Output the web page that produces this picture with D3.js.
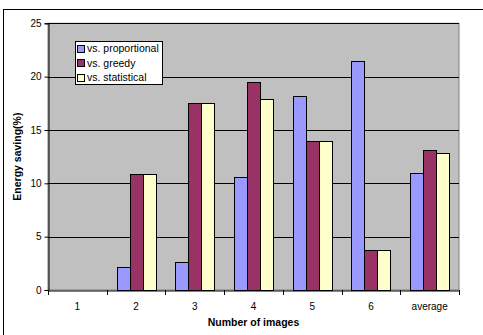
<!DOCTYPE html>
<html><head><meta charset="utf-8">
<script src="https://cdn.jsdelivr.net/npm/d3@7"></script>
<style>body{margin:0;background:#fff}svg{display:block;font-family:"Liberation Sans",Arial,sans-serif}</style>
</head><body>
<svg id="c" width="483" height="335"></svg>
<script>
const categories = ["1","2","3","4","5","6","average"];
const seriesNames = ["vs. proportional","vs. greedy","vs. statistical"];
const proportional = [0, 2.2, 2.65, 10.6, 18.2, 21.45, 11.0];
const greedy = [0, 10.9, 17.55, 19.5, 14.0, 3.75, 13.15];
const statistical = [0, 10.9, 17.55, 17.95, 14.0, 3.75, 12.8];
const yTicks = [0,5,10,15,20,25];
const colors = ["#9999FF","#993366","#FFFFCC"];

const svg = d3.select("#c");
const L=48, R=459, T=23.3, B=290;

// outer frame (clipped)
svg.append("rect").attr("x",3.5).attr("y",9.5).attr("width",500).attr("height",340)
  .attr("fill","none").attr("stroke","#000").attr("stroke-width",1);

const x0 = d3.scaleBand().domain(categories).range([L,R]).padding(0);
const x1 = d3.scaleBand().domain(seriesNames).range([x0.bandwidth()/6, x0.bandwidth()*5/6]);
const y = d3.scaleLinear().domain([0,25]).range([B,T]);

svg.append("rect").attr("x",L).attr("y",T).attr("width",R-L).attr("height",B-T)
  .attr("fill","#C0C0C0").attr("stroke","#808080").attr("stroke-width",1);

// gridlines
svg.append("g").selectAll("line").data(yTicks.filter(d=>d>0)).join("line")
  .attr("x1",L).attr("x2",R).attr("y1",d=>Math.round(y(d))+0.5).attr("y2",d=>Math.round(y(d))+0.5)
  .attr("stroke","#000").attr("stroke-width",1);

const data = [proportional, greedy, statistical];
const g = svg.append("g");
seriesNames.forEach((s,i)=>{
  g.selectAll(null).data(categories.map((c,j)=>({c,v:data[i][j]}))).join("rect")
    .attr("x",d=>Math.round(x0(d.c)+x1(s))+0.5)
    .attr("y",d=>Math.round(y(d.v))+0.5)
    .attr("width",Math.round(x1.bandwidth()))
    .attr("height",d=>Math.max(0,Math.round(y(0))-Math.round(y(d.v))))
    .attr("fill",colors[i]).attr("stroke","#000").attr("stroke-width",1)
    .style("display",d=>d.v>0?null:"none");
});

// y axis
const ya = svg.append("g").attr("transform",`translate(${L+0.5},0)`)
  .call(d3.axisLeft(y).tickValues(yTicks).tickSize(4).tickPadding(3));
ya.select(".domain").attr("stroke","#000");
ya.selectAll("text").attr("font-size","10px").attr("fill","#000").attr("font-family","Liberation Sans, Arial");
ya.selectAll(".tick line").attr("stroke","#000");

// x axis
const xa = svg.append("g").attr("transform",`translate(0,${B+0.5})`)
  .call(d3.axisBottom(x0).tickSize(0).tickPadding(12));
xa.select(".domain").attr("stroke","#000");
xa.selectAll("text").attr("font-size","10px").attr("fill","#000").attr("font-family","Liberation Sans, Arial");
svg.append("g").selectAll("line").data(categories.concat(["_end"])).join("line")
  .attr("x1",(d,i)=>Math.round(L+i*x0.bandwidth())+0.5).attr("x2",(d,i)=>Math.round(L+i*x0.bandwidth())+0.5)
  .attr("y1",B).attr("y2",B+5).attr("stroke","#000");

// titles
svg.append("text").attr("x",(L+R)/2).attr("y",326).attr("text-anchor","middle")
  .attr("font-size","10.5px").attr("font-weight","bold").text("Number of images");
svg.append("text").attr("transform",`translate(21,${(T+B)/2}) rotate(-90)`).attr("text-anchor","middle")
  .attr("font-size","10.5px").attr("font-weight","bold").text("Energy saving(%)");

// legend
const lg = svg.append("g");
lg.append("rect").attr("x",75.5).attr("y",41.5).attr("width",87).attr("height",43)
  .attr("fill","#fff").attr("stroke","#000");
seriesNames.forEach((s,i)=>{
  const yy = 48.5 + i*14.5;
  lg.append("rect").attr("x",77.5).attr("y",Math.round(yy-4)+0.5).attr("width",7).attr("height",7)
    .attr("fill",colors[i]).attr("stroke","#000");
  lg.append("text").attr("x",87).attr("y",yy+3.8).attr("font-size","10.5px").text(s);
});
</script>
</body></html>
